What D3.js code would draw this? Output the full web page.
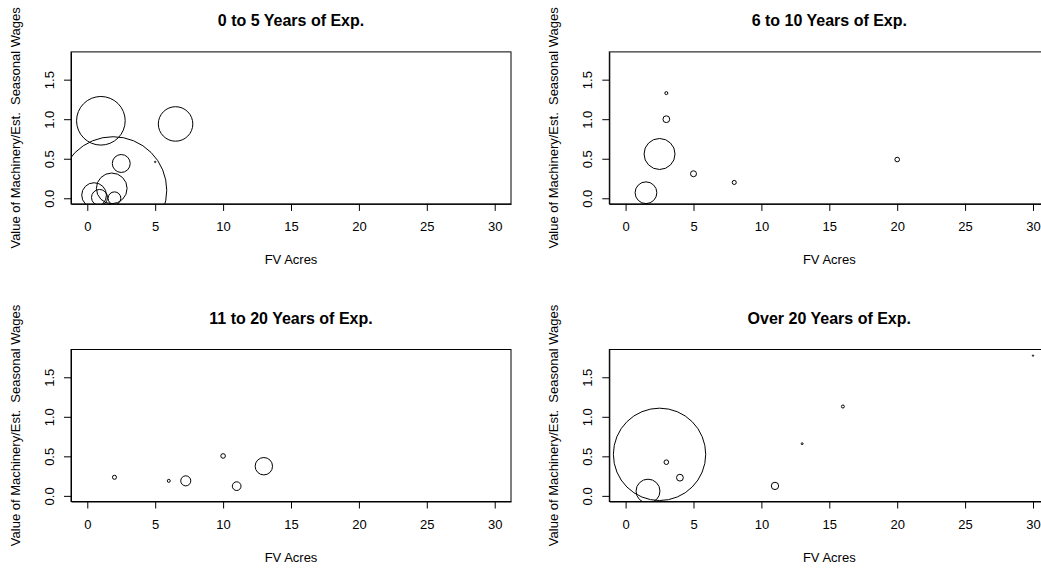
<!DOCTYPE html>
<html>
<head>
<meta charset="utf-8">
<script src="https://cdn.jsdelivr.net/npm/d3@7"></script>
<style>
  html, body { margin: 0; padding: 0; background: #fff; }
  svg { display: block; font-family: "Liberation Sans", Arial, Helvetica, sans-serif; }
</style>
</head>
<body>
<svg id="chart" width="1041" height="569"></svg>
<script>
// ---- data ----
const panelTitles = ["0 to 5 Years of Exp.", "6 to 10 Years of Exp.", "11 to 20 Years of Exp.", "Over 20 Years of Exp."];

// FV acres, value ratio, circle size (radius in FV-acre units)
const p1Acres = [1.0, 6.5, 1.9, 2.5, 5.0, 1.8, 0.5, 0.9, 2.0];
const p1Ratio = [0.98, 0.94, 0.10, 0.44, 0.46, 0.125, 0.04, 0.01, 0.0];
const p1Size  = [1.79, 1.27, 3.95, 0.66, 0.05, 1.13, 0.91, 0.59, 0.47];

const p2Acres = [3.0, 3.0, 2.5, 5.0, 8.0, 1.5, 20.0];
const p2Ratio = [1.33, 1.0, 0.56, 0.31, 0.20, 0.07, 0.49];
const p2Size  = [0.11, 0.25, 1.14, 0.22, 0.15, 0.80, 0.17];

const p3Acres = [2.0, 6.0, 7.25, 10.0, 11.0, 13.0];
const p3Ratio = [0.235, 0.19, 0.19, 0.505, 0.123, 0.375];
const p3Size  = [0.15, 0.11, 0.37, 0.17, 0.32, 0.64];

const p4Acres = [2.5, 3.0, 4.0, 1.65, 11.0, 13.0, 16.0, 30.0];
const p4Ratio = [0.525, 0.426, 0.23, 0.06, 0.126, 0.66, 1.13, 1.774];
const p4Size  = [3.40, 0.17, 0.25, 0.88, 0.27, 0.07, 0.11, 0.05];

const xTicks = [0, 5, 10, 15, 20, 25, 30];
const yTicks = [0, 0.5, 1.0, 1.5];
const yTickLabels = ["0.0", "0.5", "1.0", "1.5"];
const xLabel = "FV Acres";
const yLabel = "Value of Machinery/Est.  Seasonal Wages";

const xDomain = [-1.2, 31.2];
const yDomain = [-0.0712, 1.8512];

// ---- layout ----
const panels = [
  { title: panelTitles[0], xs: p1Acres, ys: p1Ratio, ss: p1Size, left: 71,    top: 51.9 },
  { title: panelTitles[1], xs: p2Acres, ys: p2Ratio, ss: p2Size, left: 609.3, top: 51.9 },
  { title: panelTitles[2], xs: p3Acres, ys: p3Ratio, ss: p3Size, left: 71,    top: 349.5 },
  { title: panelTitles[3], xs: p4Acres, ys: p4Ratio, ss: p4Size, left: 609.3, top: 349.5 }
];
const W = 440, H = 152;

const svg = d3.select("#chart");
svg.append("rect").attr("width", 1041).attr("height", 569).attr("fill", "#fff");
const defs = svg.append("defs");

panels.forEach((p, i) => {
  const x = d3.scaleLinear().domain(xDomain).range([0, W]);
  const y = d3.scaleLinear().domain(yDomain).range([H, 0]);
  const g = svg.append("g").attr("transform", `translate(${p.left},${p.top})`);

  defs.append("clipPath").attr("id", "clip" + i)
    .append("rect").attr("x", 0).attr("y", 0).attr("width", W).attr("height", H);

  // circles
  const data = p.xs.map((v, k) => ({ x: v, y: p.ys[k], s: p.ss[k] }));
  g.append("g").attr("clip-path", `url(#clip${i})`)
    .selectAll("circle").data(data).join("circle")
    .attr("cx", d => x(d.x))
    .attr("cy", d => y(d.y))
    .attr("r", d => Math.max(0.6, x(d.s) - x(0)))
    .attr("fill", "none")
    .attr("stroke", "#000")
    .attr("stroke-width", 1);

  // box
  g.append("rect").attr("x", 0).attr("y", 0).attr("width", W).attr("height", H)
    .attr("fill", "none").attr("stroke", "#000").attr("stroke-width", 1);

  // x axis
  const xa = g.append("g").attr("transform", `translate(0,${H})`)
    .call(d3.axisBottom(x).tickValues(xTicks).tickSize(7).tickSizeOuter(0).tickPadding(11)
      .tickFormat(d3.format("d")));
  xa.select(".domain").attr("stroke", "#000");
  xa.selectAll("line").attr("stroke", "#000");
  xa.selectAll("text").attr("font-size", 13).attr("fill", "#000")
    .attr("font-family", "Liberation Sans, Arial, sans-serif");

  // y axis
  const ya = g.append("g")
    .call(d3.axisLeft(y).tickValues(yTicks).tickSize(7).tickSizeOuter(0)
      .tickFormat((d, k) => yTickLabels[k]));
  ya.select(".domain").attr("stroke", "#000");
  ya.selectAll("line").attr("stroke", "#000");
  ya.selectAll("text")
    .attr("font-size", 13).attr("fill", "#000")
    .attr("font-family", "Liberation Sans, Arial, sans-serif")
    .attr("x", null).attr("dy", null)
    .attr("text-anchor", "middle")
    .attr("transform", "translate(-17.5,0) rotate(-90)");

  // title
  g.append("text").attr("x", W / 2).attr("y", -26)
    .attr("text-anchor", "middle").attr("font-size", 16).attr("font-weight", "bold")
    .attr("fill", "#000").text(p.title);

  // x label
  g.append("text").attr("x", W / 2).attr("y", H + 60)
    .attr("text-anchor", "middle").attr("font-size", 13).attr("fill", "#000").text(xLabel);

  // y label
  g.append("text")
    .attr("transform", `translate(-51,${H / 2}) rotate(-90)`)
    .attr("text-anchor", "middle").attr("font-size", 13).attr("fill", "#000")
    .style("white-space", "pre")
    .text(yLabel);
});
</script>
</body>
</html>
